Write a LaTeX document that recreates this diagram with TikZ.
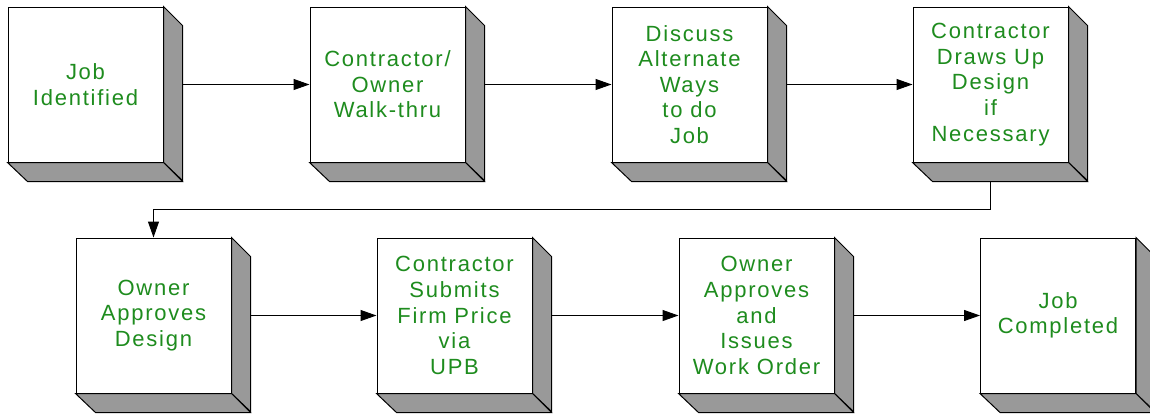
\documentclass[tikz,border=0pt]{standalone}
\usepackage{fontspec}
\setmainfont{Liberation Sans}[LetterSpace=8]
\usetikzlibrary{arrows.meta}
\definecolor{txtgreen}{RGB}{30,140,30}
\definecolor{depthgray}{RGB}{153,153,153}
\tikzset{
 stepbox/.style={draw, line width=1pt, fill=white, minimum width=155pt, minimum height=155pt, inner sep=0pt, align=center, text=txtgreen, font=\fontsize{22}{25.6}\selectfont},
 depthface/.style={draw, line width=1pt, fill=depthgray, line join=miter},
 arr/.style={draw, line width=1pt, -{Triangle[length=16pt,width=11pt]}}
}
\newcommand{\pbox}[4]{%
 \node[stepbox] (#1) at (#2+77.5,#3+77.5) {#4};
 \draw[depthface] (#1.north east) -- ++(19,19) -- ++(0,155) -- (#1.south east) -- cycle;
 \draw[depthface] (#1.south west) -- (#1.south east) -- ++(19,19) -- ++(-155,0) -- cycle;
 \coordinate (#1-r) at ([xshift=19pt]#1.east);
 \coordinate (#1-b) at ([yshift=-19pt]#1.south);
}
\begin{document}
\begin{tikzpicture}[x=1pt,y=-1pt]
\useasboundingbox (0,0) rectangle (1150,413);
\pbox{b1}{8}{7}{Job\\Identified}
\pbox{b2}{310}{7}{Contractor/\\Owner\\Walk-thru}
\pbox{b3}{612}{7}{Discuss\\Alternate\\Ways\\to do\\Job}
\pbox{b4}{913}{7}{Contractor\\Draws Up\\Design\\if\\Necessary}
\pbox{b5}{76}{238}{Owner\\Approves\\Design}
\pbox{b6}{377}{238}{Contractor\\Submits\\Firm Price\\via\\UPB}
\pbox{b7}{679}{238}{Owner\\Approves\\and\\Issues\\Work Order}
\pbox{b8}{980.5}{238}{Job\\Completed}
\draw[arr] (b1-r) -- (b2.west);
\draw[arr] (b2-r) -- (b3.west);
\draw[arr] (b3-r) -- (b4.west);
\draw[arr] (b4-b) -- ++(0,28) -| (b5.north);
\draw[arr] (b5-r) -- (b6.west);
\draw[arr] (b6-r) -- (b7.west);
\draw[arr] (b7-r) -- (b8.west);
\end{tikzpicture}
\end{document}
